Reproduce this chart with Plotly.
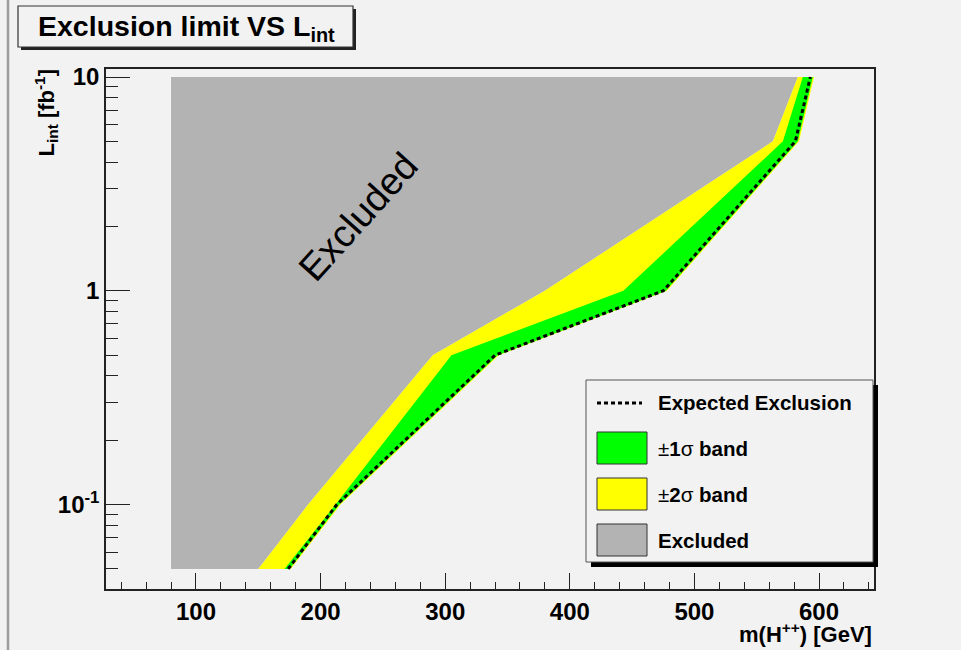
import plotly.graph_objects as go
import math

# ---------------- data ----------------
lumi = [0.05, 0.1, 0.5, 1.0, 5.0, 10.0]           # L_int [fb^-1]
band2_hi = [150, 190, 290, 380, 563, 583]        # +2 sigma edge (mass, GeV)
band1_hi = [171, 212, 305, 443, 571, 587]        # +1 sigma edge
expected = [174, 213, 340, 475, 581, 593]        # expected exclusion
band1_lo = [175, 215, 342, 477, 583, 595]        # -1 sigma edge
band2_lo = [176, 216, 343, 478, 584, 596]        # -2 sigma edge
excl_left = 80                                    # left edge of excluded region
x_range = [27.8, 644.1]
y_range = [0.0403, 10.9]
x_tickvals = [100, 200, 300, 400, 500, 600]
y_tickvals = [0.1, 1, 10]
y_ticktext = ["10<sup>-1</sup>", "1", "10"]
y_minor = [0.05, 0.06, 0.07, 0.08, 0.09, 0.2, 0.3, 0.4, 0.5, 0.6, 0.7, 0.8, 0.9,
           2, 3, 4, 5, 6, 7, 8, 9]

BG = "#f2f2f2"
GRAY = "#b3b3b3"
FONT = "Liberation Sans, Arial, Helvetica, sans-serif"

fig = go.Figure()

# excluded (grey) region
gx = [excl_left, excl_left] + band2_hi[::-1]
gy = [lumi[0], lumi[-1]] + lumi[::-1]
fig.add_trace(go.Scatter(x=gx, y=gy, fill="toself", fillcolor=GRAY, mode="lines",
                         line=dict(width=0, color=GRAY), hoverinfo="skip", showlegend=False))
# +-2 sigma band
fig.add_trace(go.Scatter(x=band2_hi + band2_lo[::-1], y=lumi + lumi[::-1], fill="toself",
                         fillcolor="#ffff00", mode="lines", line=dict(width=0, color="#ffff00"),
                         hoverinfo="skip", showlegend=False))
# +-1 sigma band
fig.add_trace(go.Scatter(x=band1_hi + band1_lo[::-1], y=lumi + lumi[::-1], fill="toself",
                         fillcolor="#00ff00", mode="lines", line=dict(width=0, color="#00ff00"),
                         hoverinfo="skip", showlegend=False))
# expected
fig.add_trace(go.Scatter(x=expected, y=lumi, mode="lines",
                         line=dict(color="black", width=3, dash="4px,3px"),
                         showlegend=False))

# ---------------- layout geometry ----------------
L, R, T, B = 106, 874, 69, 589
W, H = 961, 650


def px(xp):
    return (xp - L) / (R - L)


def py(yp):
    return (B - yp) / (B - T)


shapes = []
# window edge line on the left
shapes.append(dict(type="line", xref="paper", yref="paper", x0=px(8), x1=px(8), y0=py(0), y1=py(H),
                   line=dict(color="#9c9c9c", width=2.5)))
# title box + shadow
shapes.append(dict(type="rect", xref="paper", yref="paper", x0=px(21), x1=px(356), y0=py(9), y1=py(50),
                   fillcolor="#222222", line=dict(width=0)))
shapes.append(dict(type="rect", xref="paper", yref="paper", x0=px(18), x1=px(353), y0=py(6), y1=py(47),
                   fillcolor=BG, line=dict(color="#333333", width=1.2)))
# legend box + shadow
shapes.append(dict(type="rect", xref="paper", yref="paper", x0=px(591), x1=px(878), y0=py(385), y1=py(567),
                   fillcolor="black", line=dict(width=0)))
shapes.append(dict(type="rect", xref="paper", yref="paper", x0=px(586), x1=px(873), y0=py(380), y1=py(562),
                   fillcolor=BG, line=dict(color="#555555", width=1)))
# legend samples
shapes.append(dict(type="line", xref="paper", yref="paper", x0=px(597), x1=px(642), y0=py(403), y1=py(403),
                   line=dict(color="black", width=3, dash="4px,3px")))
for (y0, y1, col) in [(432, 464, "#00ff00"), (478, 510, "#ffff00"), (524, 556, GRAY)]:
    shapes.append(dict(type="rect", xref="paper", yref="paper", x0=px(597), x1=px(647),
                       y0=py(y1), y1=py(y0), fillcolor=col, line=dict(color="#333333", width=1)))

annotations = []
annotations.append(dict(xref="paper", yref="paper", x=px(36), y=py(28), xanchor="left", yanchor="middle",
                        text="<b>Exclusion limit VS L<sub>int</sub></b>", showarrow=False,
                        font=dict(family=FONT, size=28.5, color="black")))
leg = [("<b>Expected Exclusion</b>", 403), ("±<b>1</b>σ<b> band</b>", 448),
       ("±<b>2</b>σ<b> band</b>", 494), ("<b>Excluded</b>", 540)]
for txt, yy in leg:
    annotations.append(dict(xref="paper", yref="paper", x=px(656), y=py(yy), xanchor="left", yanchor="middle",
                            text=txt, showarrow=False, font=dict(family=FONT, size=20.5, color="black")))
# axis titles
annotations.append(dict(xref="paper", yref="paper", x=px(874), y=py(633), xanchor="right", yanchor="middle",
                        text="<b>m(H<sup>++</sup>) [GeV]</b>", showarrow=False,
                        font=dict(family=FONT, size=22, color="black")))
annotations.append(dict(xref="paper", yref="paper", x=px(46), y=py(68), xanchor="center", yanchor="top",
                        text="<b>L<sub>int</sub> [fb<sup>-1</sup>]</b>", showarrow=False, textangle=-90,
                        font=dict(family=FONT, size=22, color="black")))
# "Excluded" label inside the grey region
annotations.append(dict(x=230, y=math.log10(2.22), xref="x", yref="y", text="Excluded", showarrow=False,
                        textangle=-48, font=dict(family=FONT, size=38, color="black")))

fig.update_layout(
    width=W, height=H, autosize=False,
    margin=dict(l=L, r=W - R, t=T, b=H - B, pad=0),
    paper_bgcolor=BG, plot_bgcolor=BG,
    shapes=shapes, annotations=annotations,
    showlegend=False,
)
fig.update_xaxes(range=x_range, showgrid=False, zeroline=False,
                 showline=True, linecolor="#222222", linewidth=1.5, mirror=True,
                 ticks="inside", ticklen=16, tickwidth=1.3, tickcolor="#222222",
                 tickmode="array", tickvals=x_tickvals,
                 tickfont=dict(family=FONT, size=24, color="black", weight="bold"),
                 minor=dict(ticks="inside", ticklen=7, tickwidth=1.3, tickcolor="#222222",
                            tickmode="linear", tick0=0, dtick=20, showgrid=False))
fig.update_yaxes(type="log", range=[math.log10(y_range[0]), math.log10(y_range[1])],
                 showgrid=False, zeroline=False,
                 showline=True, linecolor="#222222", linewidth=1.5, mirror=True,
                 ticks="inside", ticklen=24, tickwidth=1.3, tickcolor="#222222",
                 tickmode="array", tickvals=y_tickvals, ticktext=y_ticktext,
                 tickfont=dict(family=FONT, size=24, color="black", weight="bold"),
                 minor=dict(ticks="inside", ticklen=12, tickwidth=1.3, tickcolor="#222222",
                            tickmode="array", tickvals=y_minor, showgrid=False))

fig.write_html("out.html")
